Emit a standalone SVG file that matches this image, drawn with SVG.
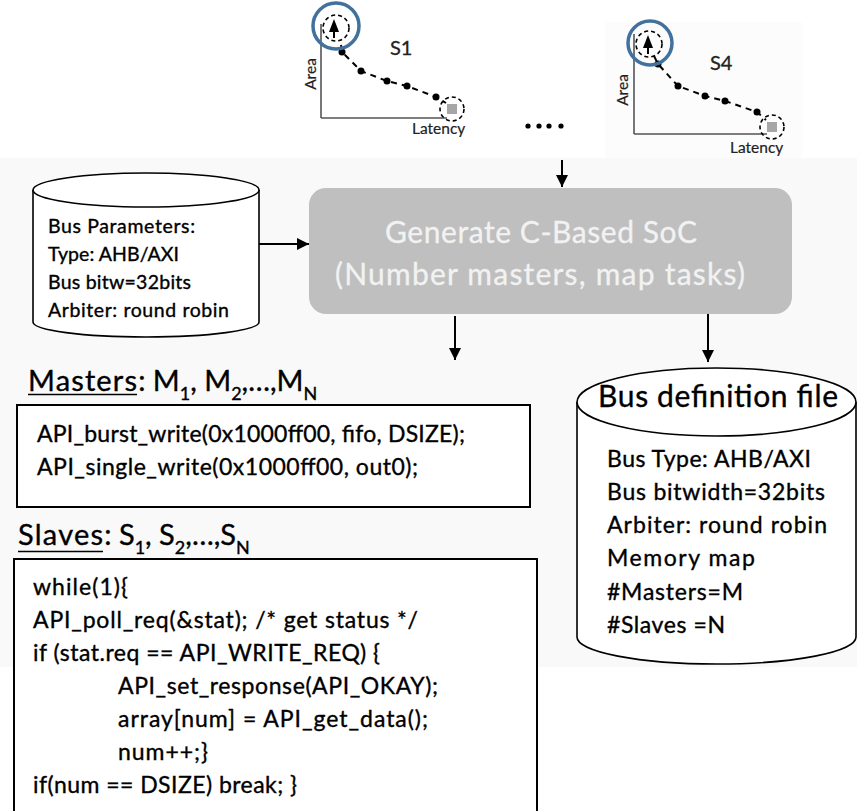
<svg xmlns="http://www.w3.org/2000/svg" width="857" height="811" viewBox="0 0 857 811">
<style>
text{font-family:Lato,"Liberation Sans",sans-serif;fill:#000;stroke:#000;stroke-width:0.35}
.ax{stroke:#555;stroke-width:1.6;fill:none}
.blue{stroke:#41719C;stroke-width:3.5;fill:none}
.dc{stroke:#000;stroke-width:1.6;fill:none;stroke-dasharray:4 3}
.dl{stroke:#000;stroke-width:2;fill:none;stroke-dasharray:6 5}
.dot{fill:#000}
.sq{fill:#a6a6a6}
.lbl{font-size:15.5px;fill:#222;stroke:#222;stroke-width:0.2}
.ttl{font-size:20px;fill:#222;stroke:#222;stroke-width:0.3}
.code{font-size:23px}
.wt{fill:#f2f2f2;stroke:#f2f2f2;stroke-width:0.3}
.cyl{fill:#fff;stroke:#000;stroke-width:1.6}
.box{fill:#fff;stroke:#000;stroke-width:2}
.conn{stroke:#000;stroke-width:2;fill:none;marker-end:url(#ah)}
</style>
<defs>
<marker id="ah" viewBox="0 0 10 10" refX="10" refY="5" markerUnits="userSpaceOnUse" markerWidth="12" markerHeight="13" orient="auto">
<path d="M0,0 L10,5 L0,10 z" fill="#000"/>
</marker>
</defs>
<rect x="0" y="0" width="857" height="811" fill="#fff"/>
<rect x="0" y="158" width="857" height="509" fill="#f9f9f9"/>
<rect x="605" y="22" width="197" height="136" fill="#fcfcfc"/>

<g id="chart-s1">
<line class="ax" x1="321" y1="24" x2="321" y2="118"/>
<line class="ax" x1="321" y1="118" x2="447" y2="118"/>
<polyline class="dl" points="341,45 342,52 361,71 387,81 407,86 436,97 446,103"/>
<circle class="dot" cx="342" cy="52" r="3.5"/>
<circle class="dot" cx="361" cy="71" r="3.5"/>
<circle class="dot" cx="387" cy="81" r="3.5"/>
<circle class="dot" cx="407" cy="86" r="3.5"/>
<circle class="dot" cx="436" cy="97" r="3.5"/>
<circle class="dc" cx="336" cy="28" r="13"/>
<polygon points="334,19 329,32 339,32" fill="#000"/>
<line x1="334" y1="31" x2="334" y2="38" stroke="#000" stroke-width="2"/>
<circle class="blue" cx="336" cy="26" r="23"/>
<rect class="sq" x="447" y="104" width="10" height="10"/>
<circle class="dc" cx="452" cy="109" r="12"/>
<text class="ttl" x="390" y="55">S1</text>
<text class="lbl" transform="translate(316,74) rotate(-90)" text-anchor="middle">Area</text>
<text class="lbl" x="412" y="134">Latency</text>
</g>

<g id="chart-s4">
<line class="ax" x1="634" y1="34" x2="634" y2="134"/>
<line class="ax" x1="634" y1="134" x2="767" y2="134"/>
<polyline class="dl" points="654,56 658,64 678,86 705,96 725,101 757,112 766,120"/>
<circle class="dot" cx="658" cy="64" r="3.5"/>
<circle class="dot" cx="678" cy="86" r="3.5"/>
<circle class="dot" cx="705" cy="96" r="3.5"/>
<circle class="dot" cx="725" cy="101" r="3.5"/>
<circle class="dot" cx="757" cy="112" r="3.5"/>
<circle class="dc" cx="649" cy="44" r="13"/>
<polygon points="648,35 643,48 653,48" fill="#000"/>
<line x1="648" y1="47" x2="648" y2="54" stroke="#000" stroke-width="2"/>
<circle class="blue" cx="650" cy="43" r="22"/>
<rect class="sq" x="767" y="122" width="10" height="10"/>
<circle class="dc" cx="772" cy="127" r="12"/>
<text class="ttl" x="710" y="70">S4</text>
<text class="lbl" transform="translate(628,90) rotate(-90)" text-anchor="middle">Area</text>
<text class="lbl" x="730" y="153">Latency</text>
</g>

<g id="ellipsis">
<circle class="dot" cx="528" cy="126" r="2.6"/>
<circle class="dot" cx="539" cy="126" r="2.6"/>
<circle class="dot" cx="549" cy="126" r="2.6"/>
<circle class="dot" cx="561" cy="126" r="2.6"/>
</g>

<g id="bus-params">
<path class="cyl" d="M33,190 L33,322 A113,15 0 0 0 259,322 L259,190"/>
<ellipse class="cyl" cx="146" cy="190" rx="113" ry="17"/>
<text x="48" y="233" font-size="19.5" textLength="147">Bus Parameters:</text>
<text x="48" y="261" font-size="19.5" textLength="131">Type: AHB/AXI</text>
<text x="48" y="289" font-size="19.5" textLength="143">Bus bitw=32bits</text>
<text x="48" y="317" font-size="19.5" textLength="181">Arbiter: round robin</text>
</g>

<g id="generate">
<rect x="309" y="188" width="483" height="126" rx="17" fill="#bfbfbf"/>
<text class="wt" x="385" y="243" font-size="30" textLength="312">Generate C-Based SoC</text>
<text class="wt" x="335" y="285" font-size="30" textLength="410">(Number masters, map tasks)</text>
</g>

<g id="masters">
<text x="28" y="391" font-size="29"><tspan textLength="109">Masters</tspan>: M<tspan font-size="18" dy="9">1</tspan><tspan dy="-9">, M</tspan><tspan font-size="18" dy="9">2</tspan><tspan dy="-9">,…,M</tspan><tspan font-size="18" dy="9">N</tspan></text>
<line x1="28" y1="394.5" x2="137" y2="394.5" stroke="#000" stroke-width="1.5"/>
<rect class="box" x="17" y="405" width="513" height="102"/>
<text class="code" x="37" y="442" textLength="428">API_burst_write(0x1000ff00, fifo, DSIZE);</text>
<text class="code" x="37" y="475" textLength="381">API_single_write(0x1000ff00, out0);</text>
</g>

<g id="slaves">
<text x="18" y="545" font-size="29"><tspan textLength="85">Slaves</tspan>: S<tspan font-size="18" dy="9">1</tspan><tspan dy="-9">, S</tspan><tspan font-size="18" dy="9">2</tspan><tspan dy="-9">,…,S</tspan><tspan font-size="18" dy="9">N</tspan></text>
<line x1="18" y1="551.5" x2="103" y2="551.5" stroke="#000" stroke-width="1.5"/>
<rect class="box" x="14" y="559" width="523" height="280"/>
<text class="code" x="33" y="595" textLength="95">while(1){</text>
<text class="code" x="33" y="628" textLength="385">API_poll_req(&amp;stat); /* get status */</text>
<text class="code" x="33" y="661" textLength="347">if (stat.req == API_WRITE_REQ) {</text>
<text class="code" x="118" y="694" textLength="320">API_set_response(API_OKAY);</text>
<text class="code" x="118" y="727" textLength="310">array[num] = API_get_data();</text>
<text class="code" x="118" y="760" textLength="90">num++;}</text>
<text class="code" x="33" y="793" textLength="264">if(num == DSIZE) break; }</text>
</g>

<g id="bus-def">
<path class="cyl" d="M577,402 L577,637 A139.5,27 0 0 0 856,637 L856,402"/>
<ellipse class="cyl" cx="716.5" cy="402" rx="139.5" ry="34"/>
<text x="598" y="407" font-size="30" textLength="240">Bus definition file</text>
<text class="code" x="607" y="467" textLength="204">Bus Type: AHB/AXI</text>
<text class="code" x="607" y="500" textLength="218">Bus bitwidth=32bits</text>
<text class="code" x="607" y="533" textLength="220">Arbiter: round robin</text>
<text class="code" x="607" y="566" textLength="148">Memory map</text>
<text class="code" x="607" y="600" textLength="136">#Masters=M</text>
<text class="code" x="607" y="633" textLength="118">#Slaves =N</text>
</g>

<g id="connectors">
<line class="conn" x1="562" y1="160" x2="562" y2="187"/>
<line class="conn" x1="259" y1="244" x2="309" y2="244"/>
<line class="conn" x1="455" y1="316" x2="455" y2="360"/>
<line class="conn" x1="708" y1="314" x2="708" y2="362"/>
</g>
</svg>
